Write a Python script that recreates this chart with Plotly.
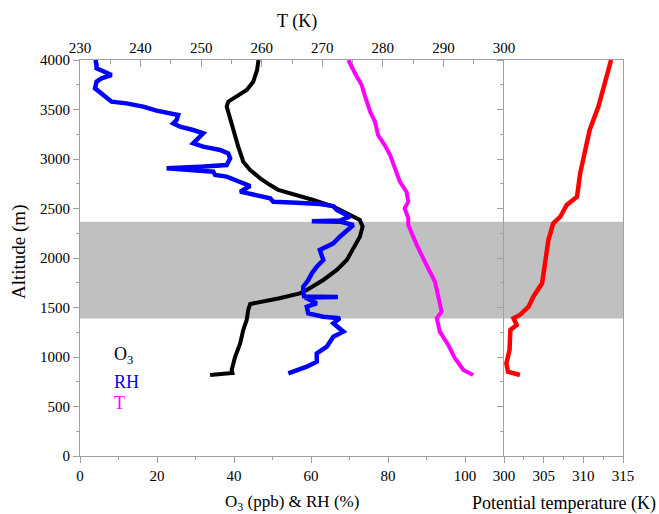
import plotly.graph_objects as go

# Ozone profile (ppb) vs altitude (m)
o3_alt = [818, 838, 869, 1003, 1138, 1273, 1374, 1475, 1535, 1560, 1593, 1643, 1677, 1778, 1879,
          1980, 2114, 2215, 2316, 2384, 2451, 2518, 2586, 2653, 2687, 2737, 2805, 2889, 2973, 3125,
          3293, 3428, 3529, 3579, 3630, 3697, 3781, 3899, 3983, 4000]
o3_val = [33.8, 39.6, 39.4, 40.3, 41.6, 42.4, 43.3, 43.7, 44.2, 48.0, 51.8, 57.1, 58.9, 63.2, 66.7,
          69.3, 71.4, 72.7, 73.4, 72.7, 69.3, 65.8, 60.6, 54.5, 51.5, 49.4, 46.8, 44.2, 42.4, 41.1,
          39.8, 39.0, 38.1, 38.5, 40.7, 43.3, 45.0, 46.0, 46.3, 46.4]

# Relative humidity profile (%)
rh_alt = [835, 852, 902, 953, 1037, 1104, 1205, 1256, 1340, 1391, 1407, 1441, 1508, 1542, 1575,
          1600, 1605, 1612, 1643, 1710, 1778, 1845, 1912, 1980, 2081, 2148, 2215, 2283, 2333, 2367,
          2372, 2378, 2417, 2451, 2485, 2525, 2545, 2559, 2569, 2603, 2636, 2670, 2727, 2771, 2822,
          2838, 2872, 2889, 2906, 2922, 2939, 3007, 3057, 3091, 3125, 3158, 3209, 3260, 3293, 3326,
          3360, 3394, 3444, 3461, 3488, 3529, 3562, 3579, 3630, 3680, 3714, 3781, 3815, 3848, 3882,
          3916, 3950, 3983, 4000]
rh_val = [54.1, 55.4, 58.9, 61.5, 61.5, 64.1, 65.8, 68.4, 65.8, 67.5, 63.2, 59.3, 58.9, 61.5, 59.5,
          58.5, 67.0, 58.2, 58.0, 58.0, 59.3, 60.2, 61.5, 63.2, 62.3, 65.8, 67.5, 69.3, 71.0, 67.5,
          60.2, 67.5, 70.1, 68.4, 66.7, 65.8, 62.3, 56.3, 50.2, 49.4, 45.0, 41.6, 44.2, 41.6, 38.1,
          35.1, 34.6, 28.6, 22.5, 31.2, 38.1, 39.0, 38.5, 36.4, 32.0, 29.4, 30.7, 32.0, 29.4, 26.0,
          24.2, 25.1, 25.5, 22.9, 19.9, 16.4, 12.1, 8.2, 6.5, 4.8, 3.9, 4.3, 5.6, 8.2, 6.5,
          4.3, 4.3, 3.9, 4.0]

# Air temperature profile (K)
t_alt = [818, 869, 987, 1121, 1256, 1391, 1458, 1593, 1761, 1929, 2131, 2333, 2401, 2502, 2569,
         2670, 2771, 2906, 3040, 3141, 3242, 3377, 3478, 3646, 3748, 3866, 4000]
t_val = [294.9, 293.3, 291.9, 290.8, 289.4, 288.9, 289.7, 289.2, 288.6, 287.2, 285.6, 284.2, 284.2,
         283.6, 284.2, 283.9, 282.8, 282.0, 281.2, 280.3, 279.2, 278.7, 277.9, 277.0, 276.5, 275.4,
         274.3]

# Potential temperature profile (K)
th_alt = [818, 852, 936, 1071, 1273, 1323, 1391, 1424, 1508, 1609, 1744, 1946, 2182, 2350, 2417,
          2535, 2619, 2855, 3091, 3293, 3529, 3764, 4000]
th_val = [302.0, 300.5, 300.3, 300.7, 300.8, 301.6, 301.2, 302.0, 303.1, 303.7, 304.8, 305.2, 305.6,
          306.2, 307.1, 307.9, 309.2, 309.6, 310.2, 310.8, 311.9, 312.7, 313.5]

# Shaded layer (m)
layer_bottom, layer_top = 1390, 2367

FONT = "'Liberation Serif', 'Times New Roman', 'DejaVu Serif', serif"
AXC = "#a0a0a0"
split = 424 / 543

fig = go.Figure()
fig.add_trace(go.Scatter(x=o3_val, y=o3_alt, mode="lines", line=dict(color="black", width=4),
                         xaxis="x", yaxis="y", showlegend=False))
fig.add_trace(go.Scatter(x=rh_val, y=rh_alt, mode="lines", line=dict(color="#0000ff", width=4.5),
                         xaxis="x", yaxis="y", showlegend=False))
fig.add_trace(go.Scatter(x=t_val, y=t_alt, mode="lines", line=dict(color="#ff00ff", width=4),
                         xaxis="x2", yaxis="y", showlegend=False))
fig.add_trace(go.Scatter(x=th_val, y=th_alt, mode="lines", line=dict(color="#ff0000", width=4.5),
                         xaxis="x3", yaxis="y2", showlegend=False))

tickfont = dict(family=FONT, size=15, color="black")
common = dict(showgrid=False, zeroline=False, showline=True, linecolor=AXC, linewidth=1,
              tickcolor=AXC, tickfont=tickfont)

fig.update_layout(
    width=659, height=514,
    margin=dict(l=80, r=36, t=60, b=58),
    plot_bgcolor="white", paper_bgcolor="white",
    font=dict(family=FONT, color="black"),
    xaxis=dict(domain=[0, split], range=[0, 110.13], anchor="y", tickvals=[0, 20, 40, 60, 80, 100],
               ticks="outside", ticklen=6, minor=dict(tickvals=[10, 30, 50, 70, 90], ticks="outside",
                                                      ticklen=3, tickcolor=AXC), **common),
    xaxis2=dict(domain=[0, split], range=[230, 300], anchor="y", overlaying="x", side="top",
                dtick=10, ticks="inside", ticklen=7,
                minor=dict(dtick=5, ticks="inside", ticklen=4, tickcolor=AXC), **common),
    xaxis3=dict(domain=[split, 1], range=[300, 315], anchor="y2", dtick=5, ticks="outside",
                ticklen=6, mirror=True,
                minor=dict(dtick=2.5, ticks="outside", ticklen=3, tickcolor=AXC), **common),
    yaxis=dict(domain=[0, 1], range=[0, 4000], anchor="x", dtick=500, ticks="outside", ticklen=6,
               minor=dict(dtick=250, ticks="outside", ticklen=3, tickcolor=AXC), **common),
    yaxis2=dict(domain=[0, 1], range=[0, 4000], anchor="x3", matches="y", dtick=500,
                showticklabels=False, ticks="outside", ticklen=6, mirror=True,
                minor=dict(dtick=250, ticks="outside", ticklen=3, tickcolor=AXC), **common),
    shapes=[dict(type="rect", xref="paper", x0=0, x1=1, yref="y", y0=layer_bottom, y1=layer_top,
                 fillcolor="#c0c0c0", line=dict(width=0), layer="below")],
)

title_font = dict(family=FONT, size=17, color="black")
fig.add_annotation(text="T (K)", xref="paper", yref="paper", x=(297 - 80) / 543, y=(456 - 22) / 396,
                   showarrow=False, font=dict(family=FONT, size=18, color="black"),
                   xanchor="center", yanchor="middle")
fig.add_annotation(text="O<sub>3</sub> (ppb) & RH (%)", xref="paper", yref="paper",
                   x=(292 - 80) / 543, y=(456 - 503) / 396, showarrow=False, font=title_font,
                   xanchor="center", yanchor="middle")
fig.add_annotation(text="Potential temperature (K)", xref="paper", yref="paper",
                   x=(563.5 - 80) / 543, y=(456 - 503) / 396, showarrow=False,
                   font=dict(family=FONT, size=18, color="black"),
                   xanchor="center", yanchor="middle")
fig.add_annotation(text="Altitude (m)", xref="paper", yref="paper", x=(19 - 80) / 543,
                   y=(456 - 252) / 396, textangle=-90, showarrow=False,
                   font=dict(family=FONT, size=19, color="black"), xanchor="center", yanchor="middle")

# In-plot key
for label, color, py in [("O<sub>3</sub>", "black", 355), ("RH", "#0000ff", 382), ("T", "#ff00ff", 403)]:
    fig.add_annotation(text=label, xref="paper", yref="paper", x=(112 - 80) / 543,
                       y=(456 - py) / 396, showarrow=False, xanchor="left", yanchor="middle",
                       font=dict(family=FONT, size=18, color=color))

fig.write_html("out.html")
